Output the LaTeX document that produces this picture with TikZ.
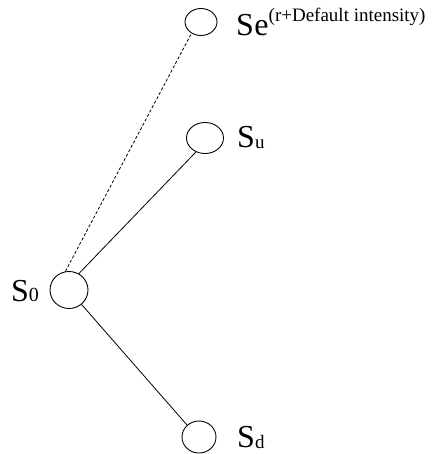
\documentclass[tikz,border=0pt]{standalone}
\usepackage{fontspec}
\setmainfont{Liberation Serif}
\usetikzlibrary{shapes.geometric}
\begin{document}
\begin{tikzpicture}[x=1pt,y=-1pt,
  st/.style={draw,ellipse,inner sep=0pt,line width=0.9pt},
  lbl/.style={anchor=base west,inner sep=0pt,font=\fontsize{32}{32}\selectfont},
  ln/.style={line width=0.8pt}]
\useasboundingbox (0,0) rectangle (433,454);
\node[st,minimum width=32pt,minimum height=27pt] (se) at (201,22) {};
\node[st,minimum width=37pt,minimum height=31pt] (su) at (205,138) {};
\node[st,minimum width=38pt,minimum height=37pt] (s0) at (69,290) {};
\node[st,minimum width=34pt,minimum height=32pt] (sd) at (199,437) {};
\node[lbl] (lse) at (236,36) {S\kern0.5pt e\raisebox{14pt}{\fontsize{19}{19}\selectfont(r+Default intensity)}};
\node[lbl] (lsu) at (237,148) {S\raisebox{-1pt}{\fontsize{19}{19}\selectfont u}};
\node[lbl] (lsd) at (237,447) {S\raisebox{-1pt}{\fontsize{19}{19}\selectfont d}};
\node[lbl] (ls0) at (11,301) {S\raisebox{-0.5pt}{\fontsize{20}{20}\selectfont 0}};
\draw[ln,dash pattern=on 3pt off 2pt] (s0.101) -- (se.230);
\draw[ln] (s0.59) -- (su.237);
\draw[ln] (s0.-49) -- (sd.135);
\end{tikzpicture}
\end{document}
